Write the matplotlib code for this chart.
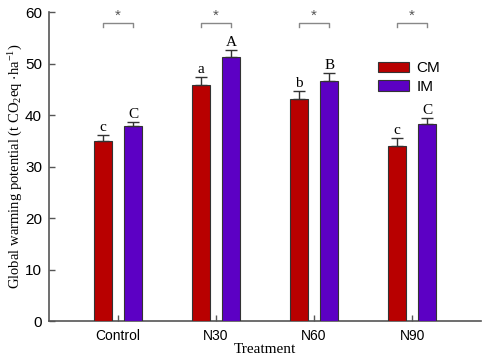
import matplotlib
matplotlib.use("Agg")
import matplotlib.pyplot as plt
import numpy as np

plt.rcParams["mathtext.fontset"] = "custom"
plt.rcParams["mathtext.rm"] = "Liberation Serif"
plt.rcParams["mathtext.it"] = "Liberation Serif:italic"
plt.rcParams["mathtext.default"] = "regular"

categories = ["Control", "N30", "N60", "N90"]
cm_values = [34.9, 45.9, 43.2, 34.0]
cm_errors = [1.3, 1.5, 1.5, 1.5]
im_values = [37.8, 51.2, 46.7, 38.3]
im_errors = [0.9, 1.5, 1.4, 1.1]
cm_letters = ["c", "a", "b", "c"]
im_letters = ["C", "A", "B", "C"]
sig_marks = ["*", "*", "*", "*"]
sig_level = 57.9

fig = plt.figure(figsize=(4.88, 3.56), dpi=100)
ax = fig.add_axes([0.1004, 0.0983, 0.8856, 0.8677])

x = np.arange(len(categories))
off = 0.153
w = 0.184
axc = "#555555"
ekw = dict(ecolor="#333333", elinewidth=1.0, capsize=4, capthick=1.0)
ax.bar(x - off, cm_values, w, color="#B80000", edgecolor="#333333", linewidth=0.8,
       yerr=[np.zeros(4), cm_errors], error_kw=ekw, label="CM", zorder=3)
ax.bar(x + off, im_values, w, color="#5C00C4", edgecolor="#333333", linewidth=0.8,
       yerr=[np.zeros(4), im_errors], error_kw=ekw, label="IM", zorder=3)

serif = ["Liberation Serif", "DejaVu Serif"]
for i in range(len(categories)):
    ax.text(x[i] - off, cm_values[i] + cm_errors[i] + 0.2, cm_letters[i], ha="center",
            va="bottom", fontsize=11, family=serif)
    ax.text(x[i] + off, im_values[i] + im_errors[i] + 0.2, im_letters[i], ha="center",
            va="bottom", fontsize=11, family=serif)
    ax.plot([x[i] - off, x[i] - off, x[i] + off, x[i] + off],
            [sig_level - 0.8, sig_level, sig_level, sig_level - 0.8],
            color="#888888", lw=1.0)
    ax.text(x[i], sig_level + 0.1, sig_marks[i], ha="center", va="bottom",
            fontsize=11, color="#555555", family=["Liberation Sans"])

ax.set_xlim(-0.704, 3.704)
ax.set_ylim(0, 60)
ax.set_yticks(range(0, 61, 10))
ax.set_xticks(x)
ax.set_xticklabels(categories, family=["Liberation Sans"], fontsize=10)
for lab in ax.get_yticklabels():
    lab.set_family(["Liberation Sans"])
    lab.set_fontsize(11)
ax.tick_params(direction="in", color=axc, length=4, width=1.0, pad=5)
ax.tick_params(axis="x", length=4, pad=6)
for s in ["top", "right"]:
    ax.spines[s].set_visible(False)
for s in ["left", "bottom"]:
    ax.spines[s].set_color(axc)
    ax.spines[s].set_linewidth(1.2)

ax.set_xlabel("Treatment", family=serif, fontsize=11, labelpad=0)
ax.set_ylabel(r"Global warming potential (t CO$_2$eq $\cdot$ha$^{-1}$)", family=serif,
              fontsize=10.5, labelpad=0)

leg = ax.legend(loc="upper left", bbox_to_anchor=(0.73, 0.885), frameon=False,
                prop={"family": "Liberation Sans", "size": 11}, handlelength=2.0,
                handleheight=0.65, labelspacing=0.3, handletextpad=0.5)

fig.savefig("out.png", dpi=100)
